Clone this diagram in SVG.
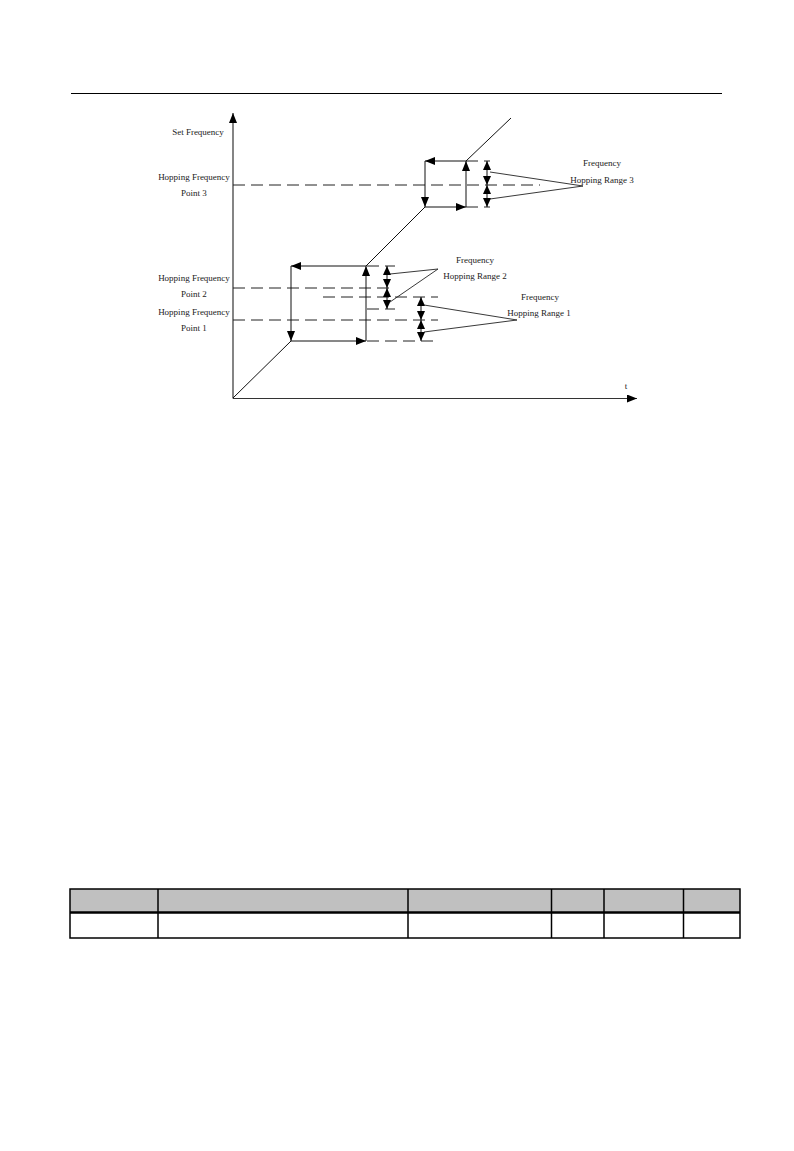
<svg xmlns="http://www.w3.org/2000/svg" width="794" height="1151" viewBox="0 0 794 1151">
<style>
.t{font-family:"Liberation Serif","Times New Roman",serif;font-size:9px;fill:#222;text-anchor:middle}
.s{stroke:#111;stroke-width:1;fill:none}
.ax{stroke:#333;stroke-width:1.2;fill:none}
.d{stroke:#222;stroke-width:1;fill:none;stroke-dasharray:12,6}
.p{stroke:#222;stroke-width:0.9;fill:none}
.tb{stroke:#000;stroke-width:1.5;fill:none}
</style>
<defs>
<marker id="ah" viewBox="0 0 10 8" refX="10" refY="4" markerWidth="10" markerHeight="8" markerUnits="userSpaceOnUse" orient="auto-start-reverse">
<path d="M0,0 L10,4 L0,8 Z" fill="#000"/>
</marker>
<marker id="ahs" viewBox="0 0 9 8" refX="9" refY="4" markerWidth="9" markerHeight="8" markerUnits="userSpaceOnUse" orient="auto-start-reverse">
<path d="M0,0 L9,4 L0,8 Z" fill="#000"/>
</marker>
</defs>
<rect width="794" height="1151" fill="#fff"/>
<line x1="71" y1="93.5" x2="722" y2="93.5" stroke="#000" stroke-width="1.2"/>

<g id="axes">
<line class="ax" x1="233" y1="398.5" x2="233" y2="113" marker-end="url(#ah)"/>
<line class="ax" x1="233" y1="398.5" x2="637" y2="398.5" marker-end="url(#ah)"/>
<text class="t" x="198" y="135">Set Frequency</text>
<text class="t" x="626" y="389">t</text>
</g>

<g id="labels-left">
<text class="t" x="194" y="180">Hopping Frequency</text>
<text class="t" x="194" y="196">Point 3</text>
<text class="t" x="194" y="281">Hopping Frequency</text>
<text class="t" x="194" y="297">Point 2</text>
<text class="t" x="194" y="315">Hopping Frequency</text>
<text class="t" x="194" y="331">Point 1</text>
</g>

<g id="dashes">
<line class="d" x1="233" y1="185" x2="540" y2="185"/>
<line class="d" x1="466" y1="161" x2="490" y2="161"/>
<line class="d" x1="466" y1="207" x2="490" y2="207"/>
<line class="d" x1="233" y1="288" x2="395" y2="288"/>
<line class="d" x1="367" y1="266" x2="395" y2="266"/>
<line class="d" x1="367" y1="309" x2="395" y2="309"/>
<line class="d" x1="323" y1="297" x2="438" y2="297"/>
<line class="d" x1="233" y1="320" x2="438" y2="320"/>
<line class="d" x1="367" y1="341" x2="438" y2="341"/>
</g>

<g id="curve">
<line class="s" x1="233" y1="398" x2="291" y2="341"/>
<line class="s" x1="291" y1="341" x2="366" y2="341" marker-end="url(#ah)"/>
<line class="s" x1="366" y1="341" x2="366" y2="266" marker-end="url(#ah)"/>
<line class="s" x1="366" y1="266" x2="291" y2="266" marker-end="url(#ah)"/>
<line class="s" x1="291" y1="266" x2="291" y2="341" marker-end="url(#ah)"/>
<line class="s" x1="366" y1="266" x2="425" y2="207"/>
<line class="s" x1="425" y1="207" x2="466" y2="207" marker-end="url(#ah)"/>
<line class="s" x1="466" y1="207" x2="466" y2="161" marker-end="url(#ah)"/>
<line class="s" x1="466" y1="161" x2="425" y2="161" marker-end="url(#ah)"/>
<line class="s" x1="425" y1="161" x2="425" y2="207" marker-end="url(#ah)"/>
<line class="s" x1="466" y1="161" x2="511" y2="118"/>
</g>

<g id="range3">
<line class="s" x1="487" y1="161" x2="487" y2="185" marker-start="url(#ahs)" marker-end="url(#ahs)"/>
<line class="s" x1="487" y1="185" x2="487" y2="207" marker-start="url(#ahs)" marker-end="url(#ahs)"/>
<line class="p" x1="490" y1="172" x2="583" y2="186"/>
<line class="p" x1="490" y1="199" x2="583" y2="186"/>
<text class="t" x="602" y="166">Frequency</text>
<text class="t" x="602" y="183">Hopping Range 3</text>
</g>

<g id="range2">
<line class="s" x1="387" y1="266" x2="387" y2="288" marker-start="url(#ahs)" marker-end="url(#ahs)"/>
<line class="s" x1="387" y1="288" x2="387" y2="309" marker-start="url(#ahs)" marker-end="url(#ahs)"/>
<line class="p" x1="390" y1="274" x2="438" y2="269"/>
<line class="p" x1="390" y1="302" x2="438" y2="269"/>
<text class="t" x="475" y="263">Frequency</text>
<text class="t" x="475" y="279">Hopping Range 2</text>
</g>

<g id="range1">
<line class="s" x1="421" y1="297" x2="421" y2="320" marker-start="url(#ahs)" marker-end="url(#ahs)"/>
<line class="s" x1="421" y1="320" x2="421" y2="341" marker-start="url(#ahs)" marker-end="url(#ahs)"/>
<line class="p" x1="424" y1="305" x2="517" y2="320"/>
<line class="p" x1="424" y1="332" x2="517" y2="320"/>
<text class="t" x="540" y="300">Frequency</text>
<text class="t" x="539" y="316">Hopping Range 1</text>
</g>

<g id="table">
<rect x="70" y="889" width="670" height="23" fill="#c0c0c0"/>
<rect class="tb" x="70" y="889" width="670" height="49"/>
<line x1="70" y1="912.5" x2="740" y2="912.5" stroke="#000" stroke-width="2.5"/>
<line class="tb" x1="158" y1="889" x2="158" y2="938"/>
<line class="tb" x1="408" y1="889" x2="408" y2="938"/>
<line class="tb" x1="551.5" y1="889" x2="551.5" y2="938"/>
<line class="tb" x1="604" y1="889" x2="604" y2="938"/>
<line class="tb" x1="683.5" y1="889" x2="683.5" y2="938"/>
</g>
</svg>
